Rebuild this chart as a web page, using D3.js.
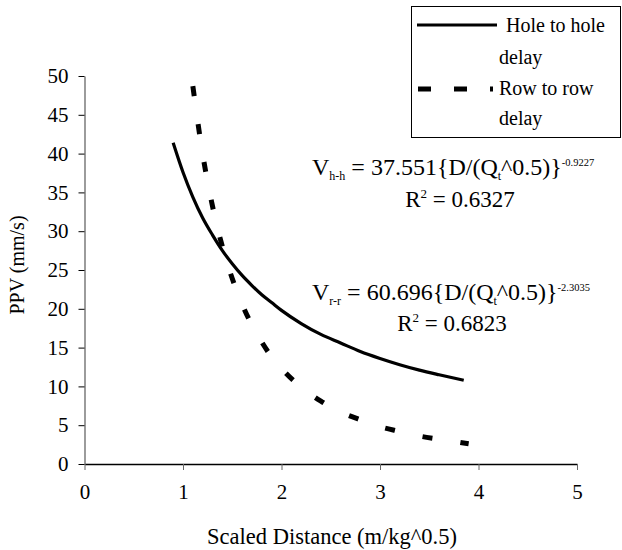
<!DOCTYPE html>
<html>
<head>
<meta charset="utf-8">
<script src="https://cdn.jsdelivr.net/npm/d3@7"></script>
<style>
  body { margin: 0; background: #fff; }
</style>
</head>
<body>
<svg id="chart" width="622" height="550"></svg>
<script>
// hole to hole delay (solid)
const holeX = [0.9, 1.0, 1.1, 1.2, 1.3, 1.4, 1.5, 1.6, 1.7, 1.8, 1.9, 2.0, 2.2, 2.4, 2.6, 2.8, 3.0, 3.2, 3.4, 3.6, 3.85];
const holeY = [41.4, 37.6, 34.4, 31.7, 29.5, 27.5, 25.8, 24.3, 23.0, 21.8, 20.8, 19.8, 18.1, 16.7, 15.6, 14.5, 13.6, 12.8, 12.1, 11.5, 10.8];
// row to row delay (dashed)
const rowX = [1.1, 1.2, 1.3, 1.4, 1.5, 1.6, 1.7, 1.8, 1.9, 2.0, 2.2, 2.4, 2.6, 2.8, 3.0, 3.2, 3.4, 3.6, 3.9];
const rowY = [48.7, 39.9, 33.2, 28.0, 23.9, 20.6, 17.9, 15.7, 13.8, 12.3, 9.9, 8.1, 6.7, 5.7, 4.8, 4.2, 3.6, 3.2, 2.6];

const xTicks = [0, 1, 2, 3, 4, 5];
const yTicks = [0, 5, 10, 15, 20, 25, 30, 35, 40, 45, 50];

const font = '"Liberation Serif", "Times New Roman", Tinos, "DejaVu Serif", "Noto Serif", serif';
const svg = d3.select('#chart').attr('font-family', font);
const margin = { top: 76, right: 45, bottom: 86, left: 84.5 };
const width = 622, height = 550;
const fs = 21;

const x = d3.scaleLinear().domain([0, 5]).range([margin.left, width - margin.right]);
const y = d3.scaleLinear().domain([0, 50]).range([height - margin.bottom, margin.top]);

svg.append('g')
    .attr('transform', `translate(0,${y(0)})`)
    .call(d3.axisBottom(x).tickValues(xTicks).tickFormat(d3.format('d')).tickSize(6).tickPadding(14).tickSizeOuter(0))
    .attr('font-family', font).attr('font-size', fs)
    .call(g => g.select('.domain').attr('stroke-width', 1.6))
    .call(g => g.selectAll('.tick line').attr('stroke', '#666'));

svg.append('g')
    .attr('transform', `translate(${x(0)},0)`)
    .call(d3.axisLeft(y).tickValues(yTicks).tickSize(6).tickPadding(10).tickSizeOuter(0))
    .attr('font-family', font).attr('font-size', fs)
    .call(g => g.select('.domain').attr('stroke', '#666').attr('stroke-width', 1.3));

const line = d3.line().x(d => x(d[0])).y(d => y(d[1])).curve(d3.curveMonotoneX);

svg.append('path')
    .datum(d3.zip(holeX, holeY))
    .attr('d', line)
    .attr('fill', 'none').attr('stroke', '#000').attr('stroke-width', 3.2);

svg.append('path')
    .datum(d3.zip(rowX, rowY))
    .attr('d', line)
    .attr('fill', 'none').attr('stroke', '#000').attr('stroke-width', 5)
    .attr('stroke-dasharray', '10,28.3');

// axis titles
svg.append('text')
    .attr('x', 332).attr('y', 544)
    .attr('text-anchor', 'middle')
    .attr('font-size', 22.5)
    .text('Scaled Distance (m/kg^0.5)');

svg.append('text')
    .attr('transform', 'translate(24,265) rotate(-90)')
    .attr('text-anchor', 'middle')
    .attr('font-size', 20)
    .text('PPV (mm/s)');

// equations
function equation(xp, yp, sub, coef, exp) {
    const t = svg.append('text').attr('x', xp).attr('y', yp).attr('font-size', 24);
    t.append('tspan').text('V');
    t.append('tspan').attr('dy', 5).attr('font-size', 12).text(sub);
    t.append('tspan').attr('dy', -5).text(' = ' + coef + '{D/(Q');
    t.append('tspan').attr('dy', 5).attr('font-size', 12).text('t');
    t.append('tspan').attr('dy', -5).text('^0.5)}');
    t.append('tspan').attr('dy', -9).attr('font-size', 10.5).text(exp);
}
function rsq(xp, yp, val) {
    const t = svg.append('text').attr('x', xp).attr('y', yp).attr('text-anchor', 'middle').attr('font-size', 23);
    t.append('tspan').text('R');
    t.append('tspan').attr('dy', -9).attr('font-size', 13).text('2');
    t.append('tspan').attr('dy', 9).text(' = ' + val);
}
equation(312, 175, 'h-h', '37.551', '-0.9227');
rsq(460, 207, '0.6327');
equation(312, 300, 'r-r', '60.696', '-2.3035');
rsq(452, 331, '0.6823');

// legend
const lg = svg.append('g');
lg.append('rect').attr('x', 411.5).attr('y', 6.5).attr('width', 209).attr('height', 131)
    .attr('fill', '#fff').attr('stroke', '#000').attr('stroke-width', 1);
lg.append('line').attr('x1', 417).attr('x2', 497).attr('y1', 25).attr('y2', 25)
    .attr('stroke', '#000').attr('stroke-width', 3.2);
lg.append('line').attr('x1', 418).attr('x2', 493).attr('y1', 89).attr('y2', 89)
    .attr('stroke', '#000').attr('stroke-width', 5).attr('stroke-dasharray', '13,23');
const legendText = [['Hole to hole', 506, 32], ['delay', 499, 64], ['Row to row', 499, 95], ['delay', 499, 125]];
legendText.forEach(([s, lx, ly]) => {
    lg.append('text').attr('x', lx).attr('y', ly).attr('font-size', 20).text(s);
});
</script>
</body>
</html>
